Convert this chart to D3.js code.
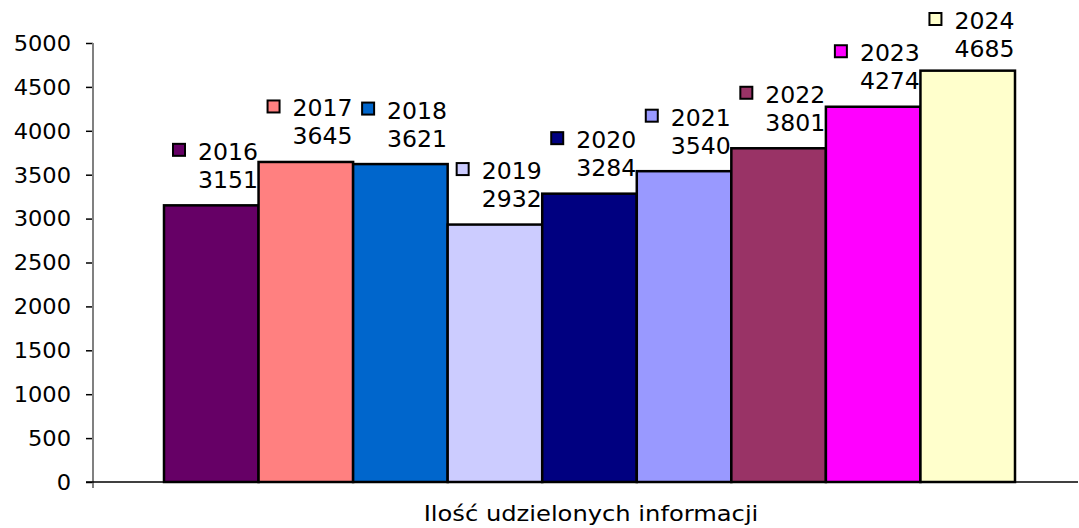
<!DOCTYPE html>
<html>
<head>
<meta charset="utf-8">
<script src="https://cdn.jsdelivr.net/npm/d3@7"></script>
<style>
  html, body { margin: 0; padding: 0; background: #fff; }
  svg { display: block; }
  text { font-family: "DejaVu Sans", Verdana, sans-serif; fill: #000; }
</style>
</head>
<body>
<svg id="chart" width="1079" height="528"></svg>
<script>
// Yearly number of information requests answered
const years = ["2016", "2017", "2018", "2019", "2020", "2021", "2022", "2023", "2024"];
const counts = [3151, 3645, 3621, 2932, 3284, 3540, 3801, 4274, 4685];
const barColors = ["#660066", "#FF8080", "#0066CC", "#CCCCFF", "#000080", "#9999FF", "#993366", "#FF00FF", "#FFFFCC"];
const yTicks = [0, 500, 1000, 1500, 2000, 2500, 3000, 3500, 4000, 4500, 5000];
const categoryTitle = "Ilość udzielonych informacji";

const svg = d3.select("#chart");
const plot = { left: 93, right: 1078, top: 43, bottom: 482 };
const stretch = 1.1; // wide glyph proportions

const x = d3.scaleBand()
  .domain(years)
  .range([164, 1015])
  .paddingInner(0)
  .paddingOuter(0);

const y = d3.scaleLinear()
  .domain([0, 5000])
  .range([plot.bottom, plot.top]);

// Bars
svg.append("g")
  .selectAll("rect")
  .data(years)
  .join("rect")
  .attr("x", d => x(d))
  .attr("y", (d, i) => y(counts[i]))
  .attr("width", x.bandwidth())
  .attr("height", (d, i) => y(0) - y(counts[i]))
  .attr("fill", (d, i) => barColors[i])
  .attr("stroke", "#000")
  .attr("stroke-width", 2.5);

// Y axis
const yAxis = d3.axisLeft(y).tickValues(yTicks).tickSize(7).tickPadding(16).tickFormat(d3.format("d"));
const gy = svg.append("g").attr("transform", `translate(${plot.left},0)`).call(yAxis);
gy.select(".domain").remove();
gy.selectAll(".tick line").attr("stroke", "#000").attr("stroke-width", 1.5);
gy.selectAll(".tick text")
  .attr("font-size", 20.5)
  .attr("dy", "0.36em")
  .attr("transform", `scale(${stretch},1)`)
  .attr("x", -22 / stretch);
svg.append("line")
  .attr("x1", plot.left).attr("x2", plot.left)
  .attr("y1", plot.top).attr("y2", plot.bottom + 6)
  .attr("stroke", "#808080").attr("stroke-width", 2);

// Baseline
svg.append("line")
  .attr("x1", plot.left - 7).attr("x2", plot.right)
  .attr("y1", y(0)).attr("y2", y(0))
  .attr("stroke", "#000").attr("stroke-width", 1.5);

// Data labels: legend key + year, value underneath
const labels = svg.append("g")
  .selectAll("g")
  .data(years)
  .join("g")
  .attr("transform", (d, i) => {
    const line2 = y(counts[i]) - 17.5;
    const line1 = Math.max(line2 - 28, 29);
    return `translate(${x(d)},${line1})`;
  });

labels.append("rect")
  .attr("x", 9)
  .attr("y", -16)
  .attr("width", 12)
  .attr("height", 12)
  .attr("fill", (d, i) => barColors[i])
  .attr("stroke", "#000")
  .attr("stroke-width", 2);

labels.append("text")
  .attr("transform", `translate(34,0) scale(${stretch / 1.05},1)`)
  .attr("font-size", 22.5)
  .text(d => d);

labels.append("text")
  .attr("transform", `translate(34,28) scale(${stretch / 1.05},1)`)
  .attr("font-size", 22.5)
  .text((d, i) => counts[i]);

// Category title
svg.append("text")
  .attr("transform", `translate(591,521) scale(${stretch},1)`)
  .attr("text-anchor", "middle")
  .attr("font-size", 22)
  .text(categoryTitle);
</script>
</body>
</html>
